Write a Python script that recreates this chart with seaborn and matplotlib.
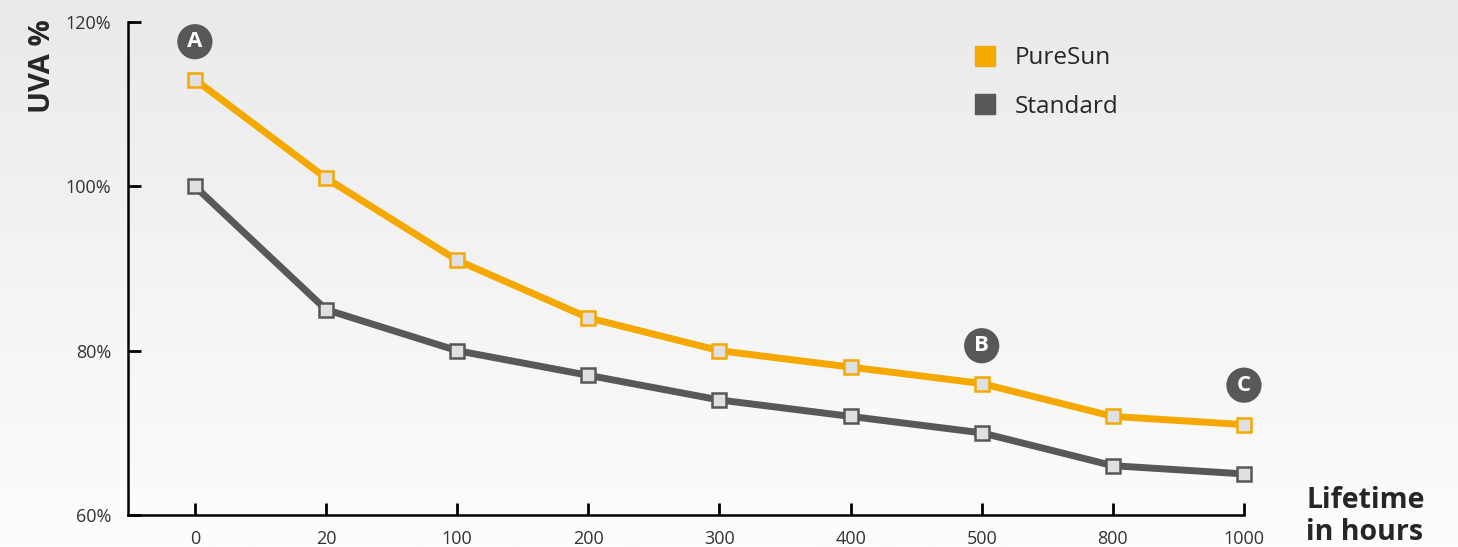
import numpy as np
import pandas as pd
import matplotlib.pyplot as plt
import seaborn as sns
from matplotlib.lines import Line2D
from matplotlib.colors import LinearSegmentedColormap

# data
hours = ["0", "20", "100", "200", "300", "400", "500", "800", "1000"]
puresun = [113, 101, 91, 84, 80, 78, 76, 72, 71]
standard = [100, 85, 80, 77, 74, 72, 70, 66, 65]
yticks = [60, 80, 100, 120]
badges = [("A", "0", 117.6), ("B", "500", 80.6), ("C", "1000", 75.8)]

ORANGE = "#f5a800"
GREY = "#58585a"

sns.set_style("ticks")
plt.rcParams["font.family"] = ["Open Sans", "DejaVu Sans"]

df = pd.DataFrame({
    "hours": hours * 2,
    "uva": puresun + standard,
    "series": ["PureSun"] * len(hours) + ["Standard"] * len(hours),
})

fig = plt.figure(figsize=(14.58, 5.47), dpi=100)

# soft grey-to-white background
bg = fig.add_axes([0, 0, 1, 1], zorder=-10)
grad = np.linspace(0, 1, 256).reshape(-1, 1)
bg.imshow(grad, aspect="auto", extent=[0, 1, 0, 1], origin="upper",
          cmap=LinearSegmentedColormap.from_list("bg", ["#eaeaea", "#fdfdfd"]))
bg.axis("off")

ax = fig.add_axes([0.0878, 0.0585, 0.7654, 0.9013])
ax.set_facecolor("none")

sns.lineplot(data=df, x="hours", y="uva", hue="series",
             palette={"PureSun": ORANGE, "Standard": GREY},
             marker="s", markersize=10, linewidth=5, legend=False,
             sort=False, ax=ax)
for line in ax.lines:
    line.set_markerfacecolor("#e0e0e2")
    line.set_markeredgecolor(line.get_color())
    line.set_markeredgewidth(1.8)
    line.set_solid_joinstyle("round")
    line.set_clip_on(False)

for letter, xcat, yv in badges:
    ax.text(hours.index(xcat), yv, letter, ha="center", va="center",
            fontsize=16, fontweight="bold", color="white",
            bbox=dict(boxstyle="circle,pad=0.32", fc=GREY, ec="none"))

ax.set_xlim(-0.51, len(hours) - 1)
ax.set_ylim(60, 120)
ax.set_yticks(yticks)
ax.set_yticklabels([f"{v}%" for v in yticks])
ax.tick_params(axis="both", direction="in", length=9, width=2,
               labelsize=13, labelcolor="#333333", color="black")
ax.tick_params(axis="x", pad=11)
ax.tick_params(axis="y", pad=12)
for s in ["top", "right"]:
    ax.spines[s].set_visible(False)
for s in ["left", "bottom"]:
    ax.spines[s].set_linewidth(1.8)
    ax.spines[s].set_color("black")

ax.set_xlabel("")
ax.set_ylabel("UVA %", fontsize=21, fontweight="bold")
ax.yaxis.set_label_coords(-0.064, 0.91)
fig.text(0.896, 0.0, "Lifetime\nin hours", fontsize=20.5, fontweight="bold",
         ha="left", va="bottom", linespacing=1.15)

handles = [Line2D([], [], marker="s", linestyle="none", markersize=14,
                  markerfacecolor=c, markeredgecolor=c)
           for c in (ORANGE, GREY)]
ax.legend(handles, ["PureSun", "Standard"], loc="upper left",
          bbox_to_anchor=(0.735, 0.995), frameon=False, fontsize=17.5,
          handletextpad=0.65, labelspacing=1.0, handlelength=1.2)

fig.savefig("out.png", dpi=100)
